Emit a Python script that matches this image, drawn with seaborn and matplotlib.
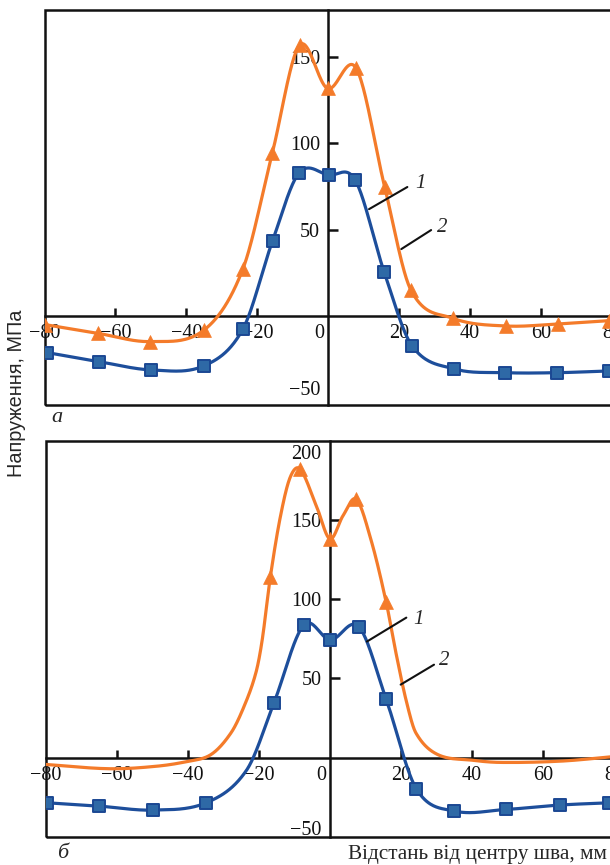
import numpy as np
import matplotlib
matplotlib.use("Agg")
import matplotlib.pyplot as plt
from matplotlib.patches import Rectangle
from matplotlib.transforms import ScaledTranslation
import seaborn as sns

# ---------------- data ----------------
# panel "а"
a1_x = [-79.2, -64.7, -49.9, -35.1, -24.1, -15.7, -8.2, 0.2, 7.6, 15.8, 23.6, 35.5, 49.8, 64.6, 79.2]
a1_y = [-21.2, -26.4, -31.2, -28.9, -7.7, 43.5, 82.8, 81.5, 78.6, 25.2, -17.2, -30.6, -32.8, -32.8, -31.8]
a1_mark = [True] * 15

a2_x = [-79.8, -65.0, -50.2, -35.0, -24.1, -15.8, -8.1, -0.2, 7.9, 15.9, 23.3, 35.1, 50.1, 64.9, 79.2]
a2_y = [-5.0, -10.0, -14.8, -8.1, 27.0, 94.0, 156.6, 131.6, 143.2, 74.7, 15.0, -1.3, -5.8, -4.6, -2.7]
a2_mark = [True] * 15

# panel "б"
b1_x = [-79.6, -65.0, -49.9, -34.9, -23.5, -15.8, -7.4, 0.1, 8.1, 15.8, 24.3, 35.0, 49.5, 64.9, 78.6]
b1_y = [-28.6, -30.7, -33.2, -28.6, -8.0, 34.4, 83.6, 74.2, 82.6, 36.9, -19.7, -33.8, -32.8, -30.0, -28.6]
b1_mark = [True, True, True, True, False, True, True, True, True, True, True, True, True, True, True]

b2_x = [-80.0, -62.0, -48.8, -40.2, -33.5, -27.9, -24.2, -20.9, -19.1, -16.8, -14.0, -11.2, -8.4,
        -3.7, 0.0, 3.7, 7.4, 11.6, 15.8, 18.6, 21.4, 24.2, 30.3, 40.0, 48.0, 65.0, 80.0]
b2_y = [-4.4, -7.1, -5.5, -2.5, 1.9, 15.5, 32.3, 53.3, 74.2, 114.0, 151.8, 177.0, 182.0,
        158.0, 138.0, 152.8, 163.0, 137.0, 98.3, 65.8, 36.5, 15.5, 1.9, -1.7, -3.1, -2.3, 0.6]
b2_mark = [False] * 9 + [True, False, False, True, False, True, False, True, False, True] + [False] * 8

x_ticks = [-80, -60, -40, -20, 0, 20, 40, 60, 80]
a_yticks = [-50, 50, 100, 150]
b_yticks = [-50, 50, 100, 150, 200]

ylabel = "Напруження, МПа"
xlabel = "Відстань від центру шва, мм"

# ---------------- style ----------------
sns.set_style("white")
plt.rcParams["font.family"] = ["Liberation Serif", "DejaVu Serif"]
plt.rcParams["axes.unicode_minus"] = True

ORANGE = "#F47B2A"
BLUE = "#1D4E9B"
SQ_FACE = "#2E69A6"
SQ_EDGE = "#1B4893"


def smooth(x, y, n=40):
    x = np.asarray(x, float)
    y = np.asarray(y, float)
    m = np.empty_like(y)
    m[1:-1] = (y[2:] - y[:-2]) / (x[2:] - x[:-2])
    m[0] = (y[1] - y[0]) / (x[1] - x[0])
    m[-1] = (y[-1] - y[-2]) / (x[-1] - x[-2])
    xs, ys = [], []
    t = np.linspace(0, 1, n, endpoint=False)
    h00 = 2 * t**3 - 3 * t**2 + 1
    h10 = t**3 - 2 * t**2 + t
    h01 = -2 * t**3 + 3 * t**2
    h11 = t**3 - t**2
    for i in range(len(x) - 1):
        h = x[i + 1] - x[i]
        xs.append(x[i] + t * h)
        ys.append(h00 * y[i] + h10 * h * m[i] + h01 * y[i + 1] + h11 * h * m[i + 1])
    xs.append([x[-1]])
    ys.append([y[-1]])
    return np.concatenate(xs), np.concatenate(ys)


fig = plt.figure(figsize=(6.10, 8.65), dpi=100)
W, H = 610.0, 865.0
ax1 = fig.add_axes([44.5 / W, 1 - 405 / H, (612 - 44.5) / W, 395 / H])
ax2 = fig.add_axes([46 / W, 1 - 836.7 / H, (614 - 46) / W, 396 / H])


def fmt(v):
    return str(v) if v >= 0 else "\u2212" + str(-v)


def draw_panel(ax, s1, s2, ylim, yticks, shifts):
    (x1, y1, m1), (x2, y2, m2) = s1, s2
    # orange curve 2
    sx, sy = smooth(x2, y2)
    sns.lineplot(x=sx, y=sy, ax=ax, color=ORANGE, lw=2.3, sort=False, estimator=None, zorder=3)
    mx = [a for a, k in zip(x2, m2) if k]
    my = [b for b, k in zip(y2, m2) if k]
    sns.scatterplot(x=mx, y=my, ax=ax, marker="^", s=100, color=ORANGE, edgecolor=ORANGE,
                    linewidth=0.5, zorder=4)
    # blue curve 1
    sx, sy = smooth(x1, y1)
    sns.lineplot(x=sx, y=sy, ax=ax, color=BLUE, lw=2.3, sort=False, estimator=None, zorder=5)
    mx = [a for a, k in zip(x1, m1) if k]
    my = [b for b, k in zip(y1, m1) if k]
    sns.scatterplot(x=mx, y=my, ax=ax, marker="s", s=72, color=SQ_FACE, edgecolor=SQ_EDGE,
                    linewidth=1.4, zorder=6)

    ax.set_xlim(-80, 80)
    ax.set_ylim(*ylim)
    ax.set_xlabel("")
    ax.set_ylabel("")

    for side in ("left", "bottom"):
        ax.spines[side].set_position(("data", 0))
        ax.spines[side].set_linewidth(1.8)
        ax.spines[side].set_color("#111111")
        ax.spines[side].set_zorder(2)
    ax.spines["top"].set_visible(False)
    ax.spines["right"].set_visible(False)
    ax.add_patch(Rectangle((0, 0), 1, 1, transform=ax.transAxes, fill=False,
                           lw=1.8, ec="#111111", clip_on=False, zorder=2))

    ax.set_xticks(x_ticks)
    ax.set_xticklabels([fmt(v) for v in x_ticks])
    ax.set_yticks(yticks)
    ax.set_yticklabels([fmt(v) for v in yticks])
    ax.tick_params(axis="x", direction="in", length=6, width=1.8, pad=6,
                   labelsize=14.5, colors="#111111", bottom=True)
    ax.tick_params(axis="y", direction="in", length=7.5, width=1.8, pad=6,
                   labelsize=14.5, colors="#111111", left=True)

    for v, tk in zip(x_ticks, ax.xaxis.get_major_ticks()):
        if v in (-80, 0, 80):
            tk.tick1line.set_visible(False)
        if v == 0:
            tk.label1.set_transform(tk.label1.get_transform() +
                                    ScaledTranslation(-9 / 100, 0, fig.dpi_scale_trans))
    for v, tk in zip(yticks, ax.yaxis.get_major_ticks()):
        if v in shifts:
            tk.tick1line.set_visible(False)
            tk.label1.set_transform(tk.label1.get_transform() +
                                    ScaledTranslation(0, shifts[v] / 100, fig.dpi_scale_trans))


def leader(ax, text, txy, p0, p1):
    ax.plot([p0[0], p1[0]], [p0[1], p1[1]], color="#111111", lw=1.5, zorder=7)
    ax.text(txy[0], txy[1], text, fontsize=15, style="italic", ha="center", va="center",
            zorder=7)


draw_panel(ax1, (a1_x, a1_y, a1_mark), (a2_x, a2_y, a2_mark), (-51.5, 177), a_yticks, {-50: 14.5})
draw_panel(ax2, (b1_x, b1_y, b1_mark), (b2_x, b2_y, b2_mark), (-50, 200), b_yticks, {-50: 9, 200: -11})

leader(ax1, "1", (25.9, 76.9), (11.5, 61.8), (22.3, 74.6))
leader(ax1, "2", (32.1, 50.9), (20.6, 38.7), (29.0, 49.7))
leader(ax2, "1", (24.8, 87.2), (10.4, 73.2), (21.5, 88.3))
leader(ax2, "2", (32.3, 61.5), (19.9, 46.0), (29.3, 58.6))

fig.text(57 / W, 1 - 417 / H, "а", fontsize=16, style="italic", ha="center", va="center")
fig.text(63 / W, 1 - 853 / H, "б", fontsize=16, style="italic", ha="center", va="center")
fig.text(348 / W, 1 - 854 / H, xlabel, fontsize=15.3, ha="left", va="center")
fig.text(17 / W, 1 - 393 / H, ylabel, fontsize=14.3, rotation=90, ha="center", va="center",
         family=["Liberation Sans", "DejaVu Sans"])

fig.savefig("out.png", dpi=100)
